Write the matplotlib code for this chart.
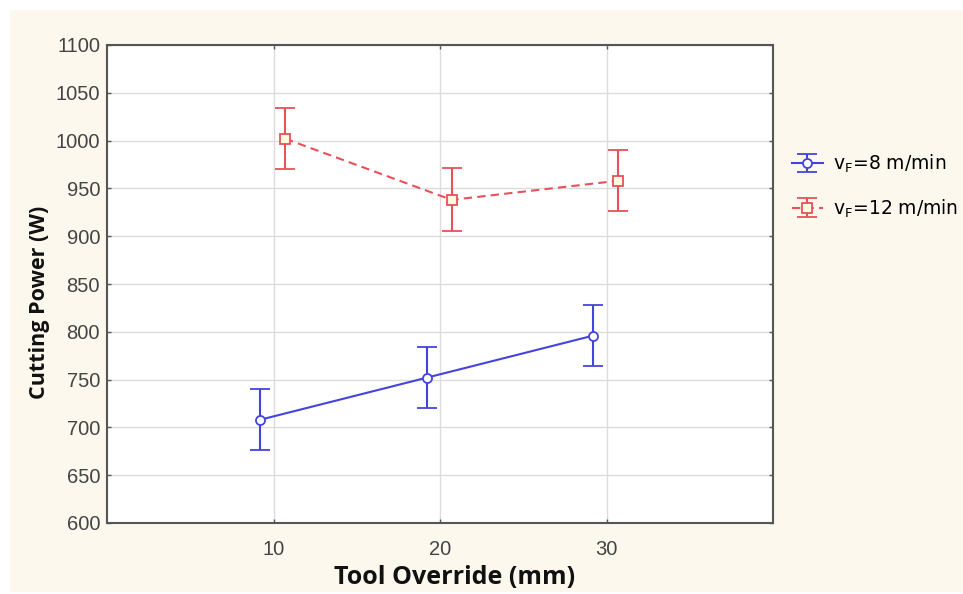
import matplotlib
matplotlib.use("Agg")
import matplotlib.pyplot as plt
from matplotlib.patches import Rectangle

override = [10, 20, 30]
power_v8 = [708, 752, 796]
err_v8 = [32, 32, 32]
power_v12 = [1002, 938, 958]
err_v12 = [32, 33, 32]
labels = [r"v$_\mathregular{F}$=8 m/min", r"v$_\mathregular{F}$=12 m/min"]

fig = plt.figure(figsize=(9.63, 5.94), dpi=100)
fig.patch.set_facecolor("white")
fig.patches.append(Rectangle((10/963, 2/594), 953/963, 582/594, transform=fig.transFigure,
                             facecolor="#fcf8ee", edgecolor="none", zorder=-10))

ax = fig.add_axes([107/963, 1 - 523/594, 666/963, 478/594])
ax.set_facecolor("white")

blue = "#4444dd"
red = "#e8505a"
xb = [x - 0.8 for x in override]
xr = [x + 0.7 for x in override]
ax.errorbar(xb, power_v8, yerr=err_v8, color=blue, lw=1.5, ls="-",
            marker="o", ms=6.5, mfc="white", mec=blue, mew=1.3,
            capsize=7, capthick=1.5, elinewidth=1.5, label=labels[0], zorder=3)
ax.errorbar(xr, power_v12, yerr=err_v12, color=red, lw=1.5, ls=(0, (4, 2.5)),
            marker="s", ms=6.5, mfc="#fffbe0", mec=red, mew=1.3,
            capsize=7, capthick=1.5, elinewidth=1.5, label=labels[1], zorder=3)

ax.set_xlim(0, 40)
ax.set_ylim(600, 1100)
ax.set_xticks(override)
ax.set_yticks(range(600, 1101, 50))
ax.grid(True, color="#dcdcdc", lw=1)
ax.set_axisbelow(True)
ax.tick_params(direction="in", length=3, width=1, color="#555555",
               top=True, right=True, labelsize=14.5, labelcolor="#444444")
ax.tick_params(axis="x", pad=12)
ax.tick_params(axis="y", pad=5)
for lab in ax.get_xticklabels() + ax.get_yticklabels():
    lab.set_fontfamily("Liberation Sans")
for s in ax.spines.values():
    s.set_color("#555555")
    s.set_linewidth(1.5)

ax.set_xlabel("Tool Override (mm)", fontsize=18, fontweight="bold",
              fontfamily="Open Sans", color="#111111")
ax.set_ylabel("Cutting Power (W)", fontsize=15.5, fontweight="bold",
              fontfamily="Open Sans", color="#111111")
ax.xaxis.set_label_coords((455 - 107) / 666, -(578 - 523) / 478, transform=ax.transAxes)
ax.xaxis.label.set_va("center")
ax.yaxis.set_label_coords(-(107 - 40) / 666, (523 - 302) / 478, transform=ax.transAxes)
ax.yaxis.label.set_va("center")

fig.legend(loc="upper left", bbox_to_anchor=(784/963, 1 - 145/594), frameon=False,
           prop={"family": "DejaVu Sans", "size": 13.5},
           handlelength=1.7, handletextpad=0.5, labelspacing=1.2, borderaxespad=0)

fig.savefig("out.png", dpi=100, facecolor=fig.get_facecolor())
